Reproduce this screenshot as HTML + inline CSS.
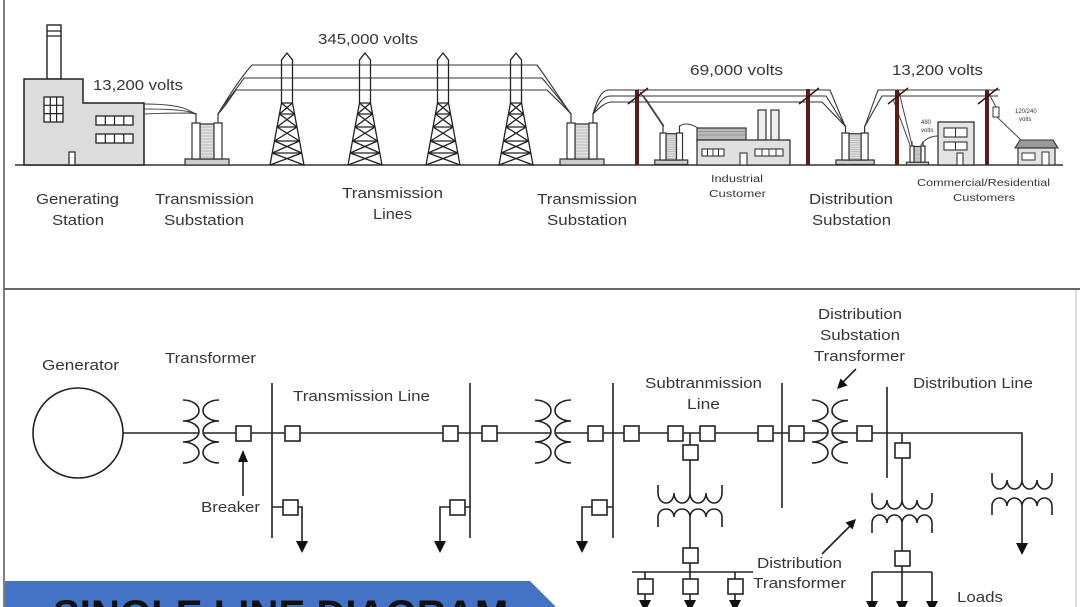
<!DOCTYPE html>
<html><head><meta charset="utf-8"><style>
html,body{margin:0;padding:0;background:#fff;width:1080px;height:607px;overflow:hidden;}
#wrap{position:relative;width:1080px;height:607px;overflow:hidden;}
svg{display:block;position:absolute;left:0;top:0;}
text{font-family:"Liberation Sans",Arial,sans-serif;fill:#363636;font-size:15px;}
#ban{position:absolute;left:53px;top:581px;width:470px;height:26px;box-sizing:border-box;padding-top:21px;overflow:hidden;
  font-family:"Liberation Sans",Arial,sans-serif;font-weight:bold;font-size:40px;line-height:26px;color:#111;white-space:nowrap;letter-spacing:0.1px;}
</style></head><body>
<div id="wrap">
<svg width="1080" height="607" viewBox="0 0 1080 607" xmlns="http://www.w3.org/2000/svg">
<defs>
  <g id="tw" fill="none" stroke="#222" stroke-width="1.3">
    <path d="M-5.5,103 V60 L0,53 L5.5,60 V103" fill="#fff"/>
    <path d="M-5.5,103 L-17,165 M5.5,103 L17,165"/>
    <path d="M-5.5,103 H5.5 M-7.5,114 H7.5 M-10,127 H10 M-12.5,141 H12.5 M-14.8,153 H14.8"/>
    <path d="M-5.5,103 L7.5,114 M5.5,103 L-7.5,114 M-7.5,114 L10,127 M7.5,114 L-10,127 M-10,127 L12.5,141 M10,127 L-12.5,141 M-12.5,141 L14.8,153 M12.5,141 L-14.8,153 M-14.8,153 L17,165 M14.8,153 L-17,165"/>
  </g>
  <g id="tf" stroke="#333" stroke-width="1.2">
    <rect x="-7" y="36" width="44" height="6" fill="#cfcfcf" vector-effect="non-scaling-stroke"/>
    <rect x="8" y="1" width="14" height="35" fill="#e2e2e2" vector-effect="non-scaling-stroke"/>
    <path d="M8,4H22M8,7H22M8,10H22M8,13H22M8,16H22M8,19H22M8,22H22M8,25H22M8,28H22M8,31H22M8,34H22" stroke="#aaa" stroke-width="0.8" vector-effect="non-scaling-stroke"/>
    <rect x="0" y="0" width="8" height="36" fill="#fff" vector-effect="non-scaling-stroke"/>
    <rect x="22" y="0" width="8" height="36" fill="#fff" vector-effect="non-scaling-stroke"/>
    <path d="M4,0V-10M26,0V-10" fill="none" vector-effect="non-scaling-stroke"/>
  </g>
</defs>

<!-- frame -->
<line x1="4" y1="0" x2="4" y2="607" stroke="#555" stroke-width="1.5"/>
<line x1="4" y1="289" x2="1080" y2="289" stroke="#666" stroke-width="2"/>
<line x1="1076" y1="290" x2="1076" y2="607" stroke="#bbb" stroke-width="1"/>

<!-- ===== TOP PANEL ===== -->
<line x1="15" y1="165" x2="1063" y2="165" stroke="#333" stroke-width="1.5"/>

<!-- generating station -->
<rect x="47" y="25" width="14" height="54" fill="#fff" stroke="#222" stroke-width="1.4"/>
<path d="M47,31H61M47,36H61" stroke="#222" stroke-width="1.2"/>
<path d="M24,165 V79 H83 V103 H144 V165 Z" fill="#dcdcdc" stroke="#222" stroke-width="1.5"/>
<rect x="44" y="97" width="19" height="25" fill="#fff" stroke="#222" stroke-width="1.3"/>
<path d="M50.3,97V122M56.6,97V122M44,105.3H63M44,113.6H63" stroke="#222" stroke-width="1.2"/>
<rect x="96" y="116" width="37" height="9" fill="#fff" stroke="#222" stroke-width="1.3"/>
<path d="M105.3,116V125M114.5,116V125M123.8,116V125" stroke="#222" stroke-width="1.2"/>
<rect x="96" y="134" width="37" height="9" fill="#fff" stroke="#222" stroke-width="1.3"/>
<path d="M105.3,134V143M114.5,134V143M123.8,134V143" stroke="#222" stroke-width="1.2"/>
<rect x="69" y="152" width="6" height="13" fill="#fff" stroke="#222" stroke-width="1.2"/>

<text x="93" y="90" textLength="90" lengthAdjust="spacingAndGlyphs">13,200 volts</text>

<g fill="none" stroke="#444" stroke-width="1">
<path d="M144,104 C165,104 182,106 190,111 L196,114"/>
<path d="M144,109 C165,109 182,110 190,112 L196,114"/>
<path d="M144,114 C165,113 182,113 190,113 L196,114"/>
</g>
<use href="#tf" transform="translate(192,123)"/>

<g fill="none" stroke="#333" stroke-width="1.1">
<path d="M218,114 C224,104 240,78 252,65 H537 C548,80 563,103 571,114"/>
<path d="M218,114 C224,104 236,90 244,78 H542 C552,90 564,104 571,114"/>
<path d="M218,114 C226,106 230,98 236,90 H547 C555,98 566,108 571,114"/>
</g>
<use href="#tw" transform="translate(287,0)"/>
<use href="#tw" transform="translate(365,0)"/>
<use href="#tw" transform="translate(443,0)"/>
<use href="#tw" transform="translate(516,0)"/>
<g stroke="#333" stroke-width="1.1">
<path d="M281.5,65H292.5M281.5,78H292.5M281.5,90H292.5"/>
<path d="M359.5,65H370.5M359.5,78H370.5M359.5,90H370.5"/>
<path d="M437.5,65H448.5M437.5,78H448.5M437.5,90H448.5"/>
<path d="M510.5,65H521.5M510.5,78H521.5M510.5,90H521.5"/>
</g>
<text x="318" y="44" textLength="100" lengthAdjust="spacingAndGlyphs">345,000 volts</text>

<use href="#tf" transform="translate(567,123)"/>

<g fill="none" stroke="#333" stroke-width="1.1">
<path d="M593,114 C597,100 601,91 608,90 H830 L845,126"/>
<path d="M593,114 C598,104 603,96 610,96 H826 L845,126"/>
<path d="M593,114 C599,108 605,102 612,102 H822 L845,126"/>
<path d="M865,126 L878,90 H1000"/>
<path d="M865,126 L882,96 H998"/>
</g>
<text x="690" y="75" textLength="93" lengthAdjust="spacingAndGlyphs">69,000 volts</text>
<text x="892" y="75" textLength="91" lengthAdjust="spacingAndGlyphs">13,200 volts</text>

<!-- industrial -->
<g fill="none" stroke="#444" stroke-width="1">
<path d="M640,92 L663,126 M643,95 L663,126 M646,99 L664,126"/>
<path d="M680,126 C683,123 690,123 698,128"/>
</g>
<use href="#tf" transform="translate(660,133) scale(0.75)"/>
<rect x="697" y="128" width="49" height="12" fill="#bbb" stroke="#333" stroke-width="1.2"/>
<path d="M697,131.5H746M697,135H746" stroke="#888" stroke-width="0.8"/>
<rect x="758" y="110" width="8" height="30" fill="#eee" stroke="#333" stroke-width="1.2"/>
<rect x="771" y="110" width="8" height="30" fill="#eee" stroke="#333" stroke-width="1.2"/>
<rect x="697" y="140" width="93" height="25" fill="#e0e0e0" stroke="#333" stroke-width="1.3"/>
<rect x="702" y="149" width="22" height="7" fill="#fff" stroke="#333" stroke-width="1.1"/>
<path d="M707.5,149V156M713,149V156M718.5,149V156" stroke="#333" stroke-width="1"/>
<rect x="755" y="149" width="28" height="7" fill="#fff" stroke="#333" stroke-width="1.1"/>
<path d="M762,149V156M769,149V156M776,149V156" stroke="#333" stroke-width="1"/>
<rect x="740" y="153" width="7" height="12" fill="#fff" stroke="#333" stroke-width="1.1"/>

<use href="#tf" transform="translate(842,133) scale(0.87,0.75)"/>

<!-- commercial -->
<g fill="none" stroke="#444" stroke-width="1">
<path d="M899,92 L912,145 M893,99 L910,145"/>
<path d="M921,145 C925,139 931,136 938,136"/>
<path d="M988,92 L996,107 M997,117 L1022,141"/>
</g>
<use href="#tf" transform="translate(910,146) scale(0.5,0.45)"/>
<rect x="938" y="122" width="36" height="43" fill="#e3e3e3" stroke="#333" stroke-width="1.3"/>
<rect x="944" y="128" width="23" height="9" fill="#fff" stroke="#333" stroke-width="1.1"/>
<path d="M955.5,128V137" stroke="#333"/>
<rect x="944" y="142" width="23" height="8" fill="#fff" stroke="#333" stroke-width="1.1"/>
<path d="M955.5,142V150" stroke="#333"/>
<rect x="957" y="153" width="6" height="12" fill="#fff" stroke="#333" stroke-width="1.1"/>
<rect x="993" y="107" width="6" height="10" fill="#fff" stroke="#333" stroke-width="1"/>
<path d="M1015,148 L1020,140 H1053 L1058,148 Z" fill="#999" stroke="#333" stroke-width="1.1"/>
<rect x="1018" y="148" width="37" height="17" fill="#e3e3e3" stroke="#333" stroke-width="1.2"/>
<rect x="1022" y="153" width="13" height="7" fill="#fff" stroke="#333" stroke-width="1"/>
<rect x="1042" y="152" width="7" height="13" fill="#fff" stroke="#333" stroke-width="1"/>
<text x="921" y="124" style="font-size:6px">480</text>
<text x="921" y="132" style="font-size:6px">volts</text>
<text x="1015" y="113" style="font-size:6px">120/240</text>
<text x="1019" y="121" style="font-size:6px">volts</text>

<!-- poles -->
<g fill="#5a1c1c">
<rect x="635" y="90" width="4" height="75"/>
<rect x="806" y="89" width="4" height="76"/>
<rect x="895" y="90" width="4" height="75"/>
<rect x="985" y="90" width="4" height="75"/>
</g>
<g stroke="#3a1010" stroke-width="1.5">
<path d="M628,104 L648,88 M799,104 L819,88 M888,104 L908,88 M978,104 L998,88"/>
</g>

<!-- top labels -->
<text x="36" y="204" textLength="83" lengthAdjust="spacingAndGlyphs">Generating</text>
<text x="52" y="225" textLength="52" lengthAdjust="spacingAndGlyphs">Station</text>
<text x="155" y="204" textLength="99" lengthAdjust="spacingAndGlyphs">Transmission</text>
<text x="164" y="225" textLength="80" lengthAdjust="spacingAndGlyphs">Substation</text>
<text x="342" y="198" textLength="101" lengthAdjust="spacingAndGlyphs">Transmission</text>
<text x="373" y="219" textLength="39" lengthAdjust="spacingAndGlyphs">Lines</text>
<text x="537" y="204" textLength="100" lengthAdjust="spacingAndGlyphs">Transmission</text>
<text x="547" y="225" textLength="80" lengthAdjust="spacingAndGlyphs">Substation</text>
<text x="711" y="182" style="font-size:10px" textLength="52" lengthAdjust="spacingAndGlyphs">Industrial</text>
<text x="709" y="197" style="font-size:10px" textLength="57" lengthAdjust="spacingAndGlyphs">Customer</text>
<text x="809" y="204" textLength="84" lengthAdjust="spacingAndGlyphs">Distribution</text>
<text x="812" y="225" textLength="79" lengthAdjust="spacingAndGlyphs">Substation</text>
<text x="917" y="186" style="font-size:10.5px" textLength="133" lengthAdjust="spacingAndGlyphs">Commercial/Residential</text>
<text x="953" y="201" style="font-size:10.5px" textLength="62" lengthAdjust="spacingAndGlyphs">Customers</text>

<!-- ===== BOTTOM PANEL ===== -->
<g fill="none" stroke="#222" stroke-width="1.6">
<circle cx="78" cy="433" r="45"/>
<path d="M123,433 H199 M203,433 H551 M555,433 H828 M832,433 H1022 V480"/>
<path d="M183,400 A16,10.5 0 0 1 183,421 A16,10.5 0 0 1 183,442 A16,10.5 0 0 1 183,463"/>
<path d="M219,400 A16,10.5 0 0 0 219,421 A16,10.5 0 0 0 219,442 A16,10.5 0 0 0 219,463"/>
<path d="M535,400 A16,10.5 0 0 1 535,421 A16,10.5 0 0 1 535,442 A16,10.5 0 0 1 535,463"/>
<path d="M571,400 A16,10.5 0 0 0 571,421 A16,10.5 0 0 0 571,442 A16,10.5 0 0 0 571,463"/>
<path d="M812,400 A16,10.5 0 0 1 812,421 A16,10.5 0 0 1 812,442 A16,10.5 0 0 1 812,463"/>
<path d="M848,400 A16,10.5 0 0 0 848,421 A16,10.5 0 0 0 848,442 A16,10.5 0 0 0 848,463"/>
<path d="M272,383 V538 M470,383 V538 M613,383 V538 M782,383 V508 M887,387 V478"/>
<path d="M272,507 H283 M298,507 H302 V542"/>
<path d="M470,507 H465 M450,507 H440 V542"/>
<path d="M613,507 H607 M592,507 H582 V542"/>
<path d="M690,433 V445 M690,460 V493 M690,517 V548 M690,563 V572"/>
<path d="M658,485 V493 A8,10 0 0 0 674,493 A8,10 0 0 0 690,493 A8,10 0 0 0 706,493 A8,10 0 0 0 722,493 V485"/>
<path d="M658,527 V517 A8,8 0 0 1 674,517 A8,8 0 0 1 690,517 A8,8 0 0 1 706,517 A8,8 0 0 1 722,517 V527"/>
<path d="M632,572 H753 M645,572 V606 M690,572 V606 M735,572 V606"/>
<path d="M902,433 V443 M902,458 V500 M902,523 V551 M902,566 V572"/>
<path d="M872,493 V500 A7.5,9 0 0 0 887,500 A7.5,9 0 0 0 902,500 A7.5,9 0 0 0 917,500 A7.5,9 0 0 0 932,500 V493"/>
<path d="M872,533 V523 A7.5,8 0 0 1 887,523 A7.5,8 0 0 1 902,523 A7.5,8 0 0 1 917,523 A7.5,8 0 0 1 932,523 V533"/>
<path d="M872,572 H932 M872,572 V604 M902,572 V604 M932,572 V604"/>
<path d="M992,473 V480 A7.5,9 0 0 0 1007,480 A7.5,9 0 0 0 1022,480 A7.5,9 0 0 0 1037,480 A7.5,9 0 0 0 1052,480 V473"/>
<path d="M992,515 V506 A7.5,8 0 0 1 1007,506 A7.5,8 0 0 1 1022,506 A7.5,8 0 0 1 1037,506 A7.5,8 0 0 1 1052,506 V515"/>
<path d="M1022,506 V543"/>
<path d="M243,496 V460"/>
<path d="M856,369 L843,382"/>
<path d="M822,554 L850,526"/>
</g>

<!-- breakers -->
<g fill="#fff" stroke="#222" stroke-width="1.6">
<rect x="236" y="426" width="15" height="15"/>
<rect x="285" y="426" width="15" height="15"/>
<rect x="443" y="426" width="15" height="15"/>
<rect x="482" y="426" width="15" height="15"/>
<rect x="588" y="426" width="15" height="15"/>
<rect x="624" y="426" width="15" height="15"/>
<rect x="668" y="426" width="15" height="15"/>
<rect x="700" y="426" width="15" height="15"/>
<rect x="758" y="426" width="15" height="15"/>
<rect x="789" y="426" width="15" height="15"/>
<rect x="857" y="426" width="15" height="15"/>
<rect x="283" y="500" width="15" height="15"/>
<rect x="450" y="500" width="15" height="15"/>
<rect x="592" y="500" width="15" height="15"/>
<rect x="683" y="445" width="15" height="15"/>
<rect x="683" y="548" width="15" height="15"/>
<rect x="638" y="579" width="15" height="15"/>
<rect x="683" y="579" width="15" height="15"/>
<rect x="728" y="579" width="15" height="15"/>
<rect x="895" y="443" width="15" height="15"/>
<rect x="895" y="551" width="15" height="15"/>
</g>

<!-- arrowheads -->
<g fill="#111">
<path d="M296,541 H308 L302,553 Z"/>
<path d="M434,541 H446 L440,553 Z"/>
<path d="M576,541 H588 L582,553 Z"/>
<path d="M1016,543 H1028 L1022,555 Z"/>
<path d="M639,600 H651 L647.5,607 H642.5 Z"/>
<path d="M684,600 H696 L692.5,607 H687.5 Z"/>
<path d="M729,600 H741 L737.5,607 H732.5 Z"/>
<path d="M866,601 H878 L875,607 H869 Z"/>
<path d="M896,601 H908 L905,607 H899 Z"/>
<path d="M926,601 H938 L935,607 H929 Z"/>
<path d="M238,462 H248 L243,450 Z"/>
<path d="M837,389 L847.5,385.5 L840.5,378.5 Z"/>
<path d="M856,519 L852.5,529.5 L845.5,522.5 Z"/>
</g>

<!-- bottom labels -->
<text x="42" y="370" textLength="77" lengthAdjust="spacingAndGlyphs">Generator</text>
<text x="165" y="363" textLength="91" lengthAdjust="spacingAndGlyphs">Transformer</text>
<text x="293" y="401" textLength="137" lengthAdjust="spacingAndGlyphs">Transmission Line</text>
<text x="201" y="512" textLength="59" lengthAdjust="spacingAndGlyphs">Breaker</text>
<text x="645" y="388" textLength="117" lengthAdjust="spacingAndGlyphs">Subtranmission</text>
<text x="687" y="409" textLength="33" lengthAdjust="spacingAndGlyphs">Line</text>
<text x="818" y="319" textLength="84" lengthAdjust="spacingAndGlyphs">Distribution</text>
<text x="820" y="340" textLength="80" lengthAdjust="spacingAndGlyphs">Substation</text>
<text x="814" y="361" textLength="91" lengthAdjust="spacingAndGlyphs">Transformer</text>
<text x="913" y="388" textLength="120" lengthAdjust="spacingAndGlyphs">Distribution Line</text>
<text x="757" y="568" textLength="85" lengthAdjust="spacingAndGlyphs">Distribution</text>
<text x="753" y="588" textLength="93" lengthAdjust="spacingAndGlyphs">Transformer</text>
<text x="957" y="602" textLength="46" lengthAdjust="spacingAndGlyphs">Loads</text>

<!-- banner -->
<path d="M5,581 H530 L556,607 H5 Z" fill="#4472c4"/>
</svg>
<div id="ban">SINGLE LINE DIAGRAM</div>
</div>
</body></html>
